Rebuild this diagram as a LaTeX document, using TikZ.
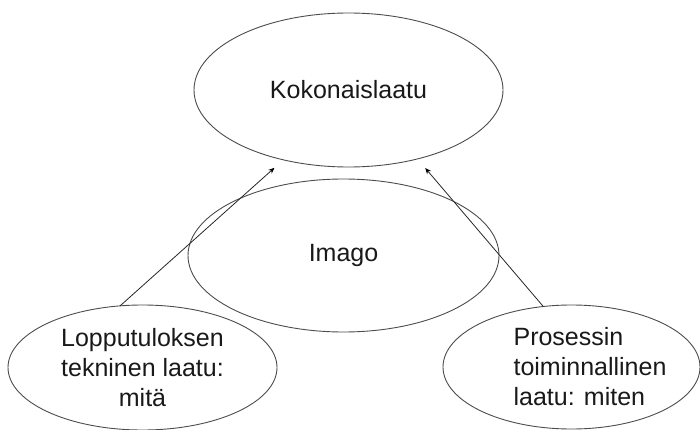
\documentclass[tikz,border=0pt]{standalone}
\usepackage{fontspec}
\setmainfont{Liberation Sans}
\usetikzlibrary{shapes.geometric}
\usetikzlibrary{arrows.meta}

\begin{document}
\begin{tikzpicture}[x=1pt, y=-1pt,
        oval/.style={shape=ellipse, draw=black!70, line width=0.9pt, inner sep=0pt, outer sep=0pt},
        txt/.style={font=\fontsize{25}{30}\selectfont, text=black!90},
        arr/.style={-{Stealth[black, length=6pt, width=5pt]}, draw=black!85, line width=0.8pt, shorten >=12pt}]
        \useasboundingbox (0,0) rectangle (700,430);

        \node[oval, txt, minimum width=309pt, minimum height=154pt] (A) at (348.5, 90) {Kokonaislaatu};
        \node[oval, txt, minimum width=311pt, minimum height=153pt] (B) at (343.5, 255.5) {Imago};
        \node[oval, txt, align=center, minimum width=269pt, minimum height=125pt] (C) at (142.5, 367.5) {Lopputuloksen\\tekninen laatu:\\mitä};
        \node[oval, minimum width=257pt, minimum height=124pt,
              label={[txt, align=left, xshift=18.5pt]center:{Prosessin\\toiminnallinen\\laatu: miten}}] (D) at (571.5, 367) {};

        \draw[arr] (C.110) -- (A.227);
        \draw[arr] (D.115) -- (A.315);
    \end{tikzpicture}
\end{document}
